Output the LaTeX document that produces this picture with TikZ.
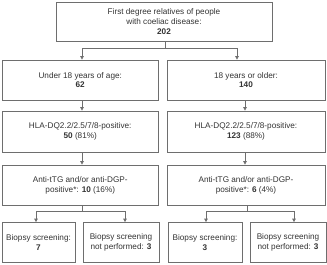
\documentclass[tikz,border=0pt]{standalone}
\usepackage{fontspec}
\setmainfont{Liberation Sans}
\usetikzlibrary{arrows.meta}
\definecolor{txt}{HTML}{333333}
\definecolor{ln}{HTML}{6E6E6E}
\begin{document}
\begin{tikzpicture}[x=1pt,y=-1pt,
  box/.style={draw=ln,line width=0.75pt,align=center,inner sep=1pt,text=txt,
    font=\fontsize{8.2}{9.8}\selectfont},
  conn/.style={draw=ln,line width=0.75pt},
  arr/.style={conn,-{Triangle[length=3.4pt,width=3.4pt]}}]
\useasboundingbox (0,0) rectangle (327,265);
\node[box,minimum width=216pt,minimum height=39pt] (top) at (164,21.5)
  {First degree relatives of people\\with coeliac disease:\\\textbf{202}};
\node[box,minimum width=156.5pt,minimum height=40pt] (l1) at (80.25,80)
  {Under 18 years of age:\\\textbf{62}};
\node[box,minimum width=158pt,minimum height=40pt] (r1) at (246,80)
  {18 years or older:\\\textbf{140}};
\node[box,minimum width=156.5pt,minimum height=41pt] (l2) at (80.25,131.5)
  {HLA-DQ2.2/2.5/7/8-positive:\\\textbf{50} (81\%)};
\node[box,minimum width=158pt,minimum height=41pt] (r2) at (246,131.5)
  {HLA-DQ2.2/2.5/7/8-positive:\\\textbf{123} (88\%)};
\node[box,minimum width=156.5pt,minimum height=40pt] (l3) at (80.25,185)
  {Anti-tTG and/or anti-DGP-\\positive*: \textbf{10} (16\%)};
\node[box,minimum width=158pt,minimum height=40pt] (r3) at (246,185)
  {Anti-tTG and/or anti-DGP-\\positive*: \textbf{6} (4\%)};
\node[box,minimum width=73pt,minimum height=40pt] (b1) at (38.5,242.5)
  {Biopsy screening:\\\textbf{7}};
\node[box,minimum width=76pt,minimum height=40pt] (b2) at (121,242.5)
  {Biopsy screening\\not performed: \textbf{3}};
\node[box,minimum width=74pt,minimum height=40pt] (b3) at (205,242.5)
  {Biopsy screening:\\\textbf{3}};
\node[box,minimum width=76pt,minimum height=40pt] (b4) at (288,242.5)
  {Biopsy screening\\not performed: \textbf{3}};
% coordinates for connector columns
\coordinate (s0) at (165,48);
\coordinate (xL) at (82,0);
\coordinate (xR) at (237,0);
\coordinate (cL) at (82,0);
\coordinate (cR) at (245,0);
\coordinate (sL) at (82,211);
\coordinate (sR) at (247,211);
\coordinate (x1) at (36,0);
\coordinate (x2) at (125,0);
\coordinate (x3) at (206,0);
\coordinate (x4) at (294,0);
% top split
\draw[conn] (top.south -| s0) -- (s0);
\draw[arr] (s0) -| (l1.north -| xL);
\draw[arr] (s0) -| (r1.north -| xR);
% column arrows
\draw[arr] (l1.south -| cL) -- (l2.north -| cL);
\draw[arr] (l2.south -| cL) -- (l3.north -| cL);
\draw[arr] (r1.south -| cR) -- (r2.north -| cR);
\draw[arr] (r2.south -| cR) -- (r3.north -| cR);
% bottom splits
\draw[conn] (l3.south -| sL) -- (sL);
\draw[arr] (sL) -| (b1.north -| x1);
\draw[arr] (sL) -| (b2.north -| x2);
\draw[conn] (r3.south -| sR) -- (sR);
\draw[arr] (sR) -| (b3.north -| x3);
\draw[arr] (sR) -| (b4.north -| x4);
\end{tikzpicture}
\end{document}
